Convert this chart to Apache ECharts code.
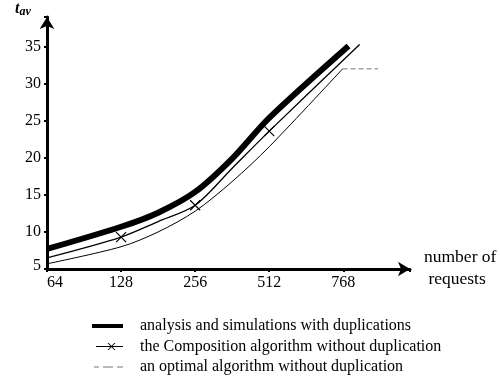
<!DOCTYPE html>
<html>
<head>
<meta charset="utf-8">
<script src="https://cdn.jsdelivr.net/npm/echarts@6/dist/echarts.min.js"></script>
<style>
  html, body { margin: 0; padding: 0; background: #fff; }
  #chart { width: 500px; height: 387px; }
</style>
</head>
<body>
<div id="chart"></div>
<script>
// x positions are tick indexes: 0 = 64, 1 = 128, 2 = 256, 3 = 512, 4 = 768
const X_LABELS = ['64', '128', '256', '512', '768']
const Y_TICKS = [5, 10, 15, 20, 25, 30, 35]

const ANALYSIS = [[0, 7.7], [1, 10.7], [1.5, 12.6], [2, 15.4], [2.5, 19.9], [3, 25.4], [4.07, 35.1]]
const COMPOSITION = [[0, 6.5], [1, 9.3], [1.5, 11.4], [2, 13.6], [2.5, 18.6], [3, 23.6], [4.22, 35.3]]
const COMPOSITION_MARKS = [1, 2, 3]
const OPTIMAL = [[0, 5.7], [1, 8.0], [1.5, 10.0], [2, 12.8], [2.5, 16.8], [3, 21.5], [3.99, 32.0]]
const OPTIMAL_TAIL = [[3.99, 32.0], [4.47, 32.0]]

const NAMES = [
  'analysis and simulations with duplications',
  'the Composition algorithm without duplication',
  'an optimal algorithm without duplication',
]

const SERIF = '"Liberation Serif", "DejaVu Serif", serif'
const X_MARK = 'path://M0,0L10,10M10,0L0,10'
// legend icons are 43x16 boxes (zero-area dots in the corners), drawn part on the left 31px
const BOX = 'M0,0L0.01,0L0,0Z M43,16L42.99,16L43,16Z '
const THICK_ICON = 'path://' + BOX + 'M0,6H31V10H0Z'
const CROSS_ICON = 'path://' + BOX +
  'M4,7.5H31V8.5H4Z M15.5,4.5L16.7,4.5L23.5,11.5L22.3,11.5Z M22.3,4.5L23.5,4.5L16.7,11.5L15.5,11.5Z'
const DASH_ICON = 'path://' + BOX + 'M2,7.6H7V8.4H2Z M11,7.6H21V8.4H11Z M25,7.6H31V8.4H25Z'

const chart = echarts.init(document.getElementById('chart'))

chart.setOption({
  animation: false,
  grid: { left: 47, right: 90, top: 17, bottom: 118, containLabel: false },
  xAxis: {
    type: 'value',
    min: 0,
    max: 4.9,
    interval: 1,
    splitLine: { show: false },
    axisLine: {
      lineStyle: { color: '#000', width: 3 },
      symbol: ['none', 'arrow'],
      symbolSize: [11, 12],
    },
    axisTick: { show: true, length: 3, lineStyle: { color: '#000', width: 2 } },
    axisLabel: {
      color: '#000',
      fontFamily: SERIF,
      fontSize: 16,
      margin: 6,
      formatter: (v) => {
        const i = Math.round(v)
        if (i === 0) return '{first|' + X_LABELS[0] + '}'
        return X_LABELS[i] ?? ''
      },
      rich: { first: { fontFamily: SERIF, fontSize: 16, color: '#000', padding: [0, 0, 0, 16] } },
    },
  },
  yAxis: {
    type: 'value',
    min: 5,
    max: 39,
    interval: 5,
    splitLine: { show: false },
    axisLine: {
      lineStyle: { color: '#000', width: 3 },
      symbol: ['none', 'arrow'],
      symbolSize: [11, 12],
    },
    axisTick: { show: true, length: 3, lineStyle: { color: '#000', width: 2 } },
    axisLabel: {
      color: '#000',
      fontFamily: SERIF,
      fontSize: 16,
      margin: 6,
      formatter: (v) => {
        if (!Y_TICKS.includes(v)) return ''
        return v === Y_TICKS[0] ? '{low|' + v + '}' : String(v)
      },
      rich: { low: { fontFamily: SERIF, fontSize: 16, color: '#000', padding: [0, 0, 6, 0] } },
    },
  },
  legend: {
    orient: 'vertical',
    left: 92,
    top: 318,
    height: 69,
    padding: 0,
    itemWidth: 43,
    itemHeight: 16,
    itemGap: 4.5,
    textStyle: { color: '#000', fontFamily: SERIF, fontSize: 16, lineHeight: 16 },
    data: [
      { name: NAMES[0], icon: THICK_ICON, itemStyle: { color: '#000' } },
      { name: NAMES[1], icon: CROSS_ICON, itemStyle: { color: '#000', borderWidth: 0 } },
      { name: NAMES[2], icon: DASH_ICON, itemStyle: { color: '#777' } },
    ],
  },
  graphic: [
    {
      type: 'text',
      left: 15,
      top: 1,
      style: {
        text: '{t|t}{s|av}',
        rich: {
          t: { fontFamily: SERIF, fontStyle: 'italic', fontWeight: 'bold', fontSize: 16, fill: '#000' },
          s: { fontFamily: SERIF, fontStyle: 'italic', fontWeight: 'bold', fontSize: 12, fill: '#000', padding: [6, 0, 0, 0] },
        },
      },
    },
    {
      type: 'text',
      left: 424,
      top: 246,
      style: {
        text: 'number of\n requests',
        fontFamily: SERIF,
        fontSize: 17.5,
        lineHeight: 22,
        fill: '#000',
      },
    },
  ],
  series: [
    {
      name: NAMES[0],
      type: 'line',
      data: ANALYSIS,
      smooth: 0.3,
      symbol: 'none',
      lineStyle: { color: '#000', width: 6 },
      itemStyle: { color: '#000' },
      z: 3,
    },
    {
      name: NAMES[1],
      type: 'line',
      data: COMPOSITION.map(([x, y]) =>
        COMPOSITION_MARKS.includes(x) ? { value: [x, y] } : { value: [x, y], symbol: 'none' }
      ),
      smooth: 0.3,
      symbol: X_MARK,
      symbolSize: 10,
      showAllSymbol: true,
      lineStyle: { color: '#000', width: 1.3 },
      itemStyle: { color: 'rgba(0,0,0,0)', borderColor: '#000', borderWidth: 1.2 },
      z: 2,
    },
    {
      name: NAMES[2],
      type: 'line',
      data: OPTIMAL,
      smooth: 0.3,
      symbol: 'none',
      lineStyle: { color: '#000', width: 1 },
      itemStyle: { color: '#000' },
      z: 2,
    },
    {
      name: 'optimal tail',
      type: 'line',
      data: OPTIMAL_TAIL,
      symbol: 'none',
      lineStyle: { color: '#777', width: 1, type: [5, 3] },
      z: 1,
    },
  ],
})
</script>
</body>
</html>
